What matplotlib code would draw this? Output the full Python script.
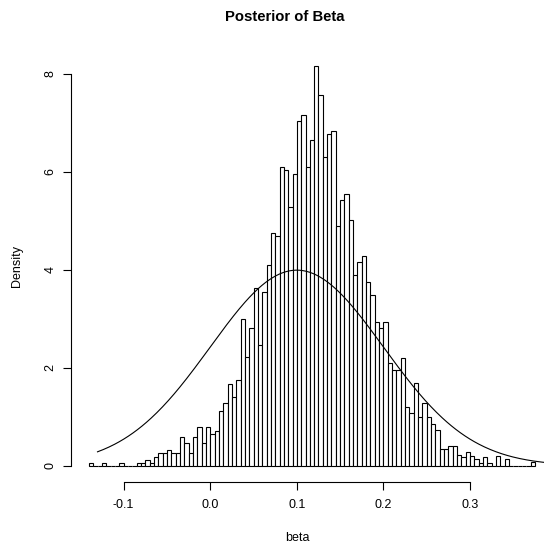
"""
Histogram of posterior draws for beta with the N(0.1, 0.1) prior density on top.
"""

import numpy as np
import matplotlib

matplotlib.use("Agg")
import matplotlib.pyplot as plt

FIG_PATH = "out.png"

# histogram bins (density scale), 0.005 wide starting at -0.14
BIN_START = -0.14
BIN_WIDTH = 0.005
density = [
    0.05, 0.00, 0.00, 0.05, 0.00, 0.00, 0.00, 0.05, 0.00, 0.00,
    0.00, 0.05, 0.05, 0.12, 0.05, 0.18, 0.25, 0.25, 0.33, 0.25,
    0.25, 0.58, 0.46, 0.25, 0.58, 0.78, 0.46, 0.78, 0.65, 0.71,
    1.12, 1.27, 1.67, 1.41, 1.75, 3.00, 2.21, 2.80, 3.62, 2.47,
    3.55, 4.09, 4.75, 4.68, 6.10, 6.03, 5.28, 5.95, 7.03, 7.16,
    6.10, 6.64, 8.16, 7.57, 6.29, 6.76, 6.83, 4.89, 5.42, 5.55,
    5.02, 3.89, 4.16, 4.28, 3.75, 3.48, 2.94, 2.81, 2.94, 2.09,
    1.95, 1.95, 2.20, 1.20, 1.07, 1.68, 1.00, 1.27, 1.00, 0.86,
    0.72, 0.34, 0.34, 0.40, 0.40, 0.22, 0.17, 0.27, 0.20, 0.13,
    0.06, 0.18, 0.06, 0.00, 0.20, 0.00, 0.13, 0.00, 0.00, 0.00,
    0.00, 0.00, 0.07,
]

# prior curve
PRIOR_MEAN = 0.1
PRIOR_SD = 0.1
CURVE_FROM = -0.13

xticks = [-0.1, 0.0, 0.1, 0.2, 0.3]
xticklabels = ["-0.1", "0.0", "0.1", "0.2", "0.3"]
yticks = [0, 2, 4, 6, 8]
yticklabels = ["0", "2", "4", "6", "8"]


def main() -> None:
    plt.rcParams["font.family"] = ["Liberation Sans", "DejaVu Sans"]

    W = H = 544
    fig = plt.figure(figsize=(W / 100, H / 100), dpi=100)
    fig.patch.set_facecolor("white")
    # plot region in pixels: x 71..553 (runs past the right edge), y 49.7..481.7
    ax = fig.add_axes([71 / W, 1 - 481.7 / H, (553 - 71) / W, (481.7 - 49.7) / H])

    edges = BIN_START + BIN_WIDTH * np.arange(len(density))
    ax.bar(edges, density, width=BIN_WIDTH, align="edge",
           color="white", edgecolor="black", linewidth=0.8)

    lo, hi = edges[0], edges[-1] + BIN_WIDTH
    r = hi - lo
    ax.set_xlim(lo - 0.04 * r, hi + 0.04 * r)
    ymax = max(density)
    ax.set_ylim(-0.04 * ymax, 1.04 * ymax)

    x = np.linspace(CURVE_FROM, hi + 0.04 * r, 400)
    y = np.exp(-0.5 * ((x - PRIOR_MEAN) / PRIOR_SD) ** 2) / (PRIOR_SD * np.sqrt(2 * np.pi))
    ax.plot(x, y, color="black", linewidth=0.8)

    for side in ("top", "right"):
        ax.spines[side].set_visible(False)
    ax.spines["left"].set_bounds(yticks[0], yticks[-1])
    ax.spines["bottom"].set_bounds(xticks[0], xticks[-1])
    for side in ("left", "bottom"):
        ax.spines[side].set_linewidth(0.8)

    ax.set_xticks(xticks)
    ax.set_xticklabels(xticklabels)
    ax.set_yticks(yticks)
    ax.set_yticklabels(yticklabels, rotation=90, va="center")
    ax.tick_params(direction="out", length=5.5, width=0.8, labelsize=9)
    ax.tick_params(axis="x", pad=7)
    ax.tick_params(axis="y", pad=5)

    fig.text(285 / W, 1 - 17 / H, "Posterior of Beta", ha="center", va="center",
             fontsize=10.7, fontweight="bold")
    fig.text(297 / W, 1 - 538 / H, "beta", ha="center", va="center", fontsize=9)
    fig.text(17 / W, 1 - 265.7 / H, "Density", ha="center", va="center",
             rotation=90, fontsize=9)

    fig.savefig(FIG_PATH, dpi=100)
    plt.close(fig)


if __name__ == "__main__":
    main()
